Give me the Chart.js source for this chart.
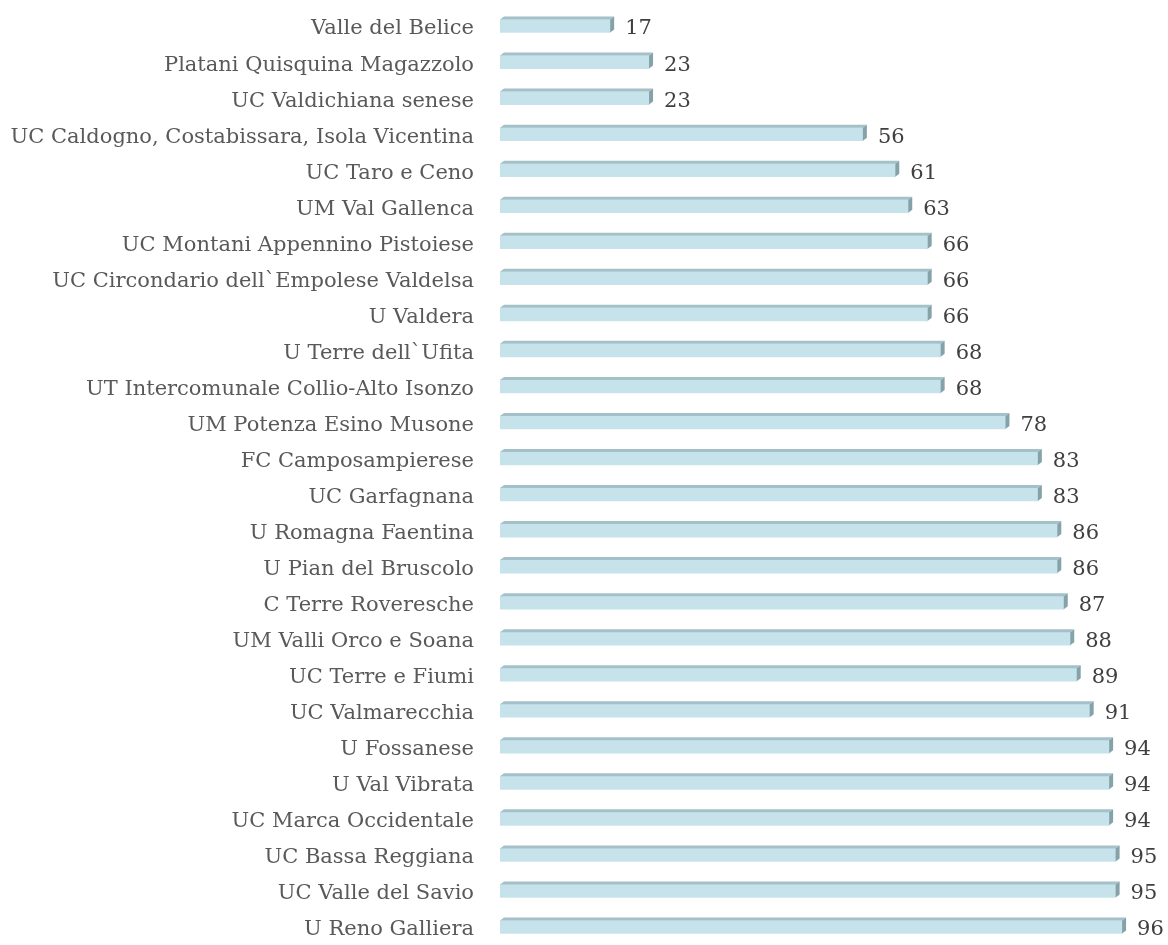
<!DOCTYPE html>
<html>
<head>
<meta charset="utf-8">
<script src="https://cdn.jsdelivr.net/npm/chart.js@4"></script>
<style>
  body { margin: 0; background: #fff; }
  #wrap { width: 1168px; height: 945px; position: relative; }
</style>
</head>
<body>
<div id="wrap"><canvas id="unionChart"></canvas></div>
<script>
var unions = [
  'Valle del Belice', 'Platani Quisquina Magazzolo', 'UC Valdichiana senese',
  'UC Caldogno, Costabissara, Isola Vicentina', 'UC Taro e Ceno', 'UM Val Gallenca',
  'UC Montani Appennino Pistoiese', 'UC Circondario dell`Empolese Valdelsa', 'U Valdera',
  'U Terre dell`Ufita', 'UT Intercomunale Collio-Alto Isonzo', 'UM Potenza Esino Musone',
  'FC Camposampierese', 'UC Garfagnana', 'U Romagna Faentina', 'U Pian del Bruscolo',
  'C Terre Roveresche', 'UM Valli Orco e Soana', 'UC Terre e Fiumi', 'UC Valmarecchia',
  'U Fossanese', 'U Val Vibrata', 'UC Marca Occidentale', 'UC Bassa Reggiana',
  'UC Valle del Savio', 'U Reno Galliera'
];
var scores = [17, 23, 23, 56, 61, 63, 66, 66, 66, 68, 68, 78, 83, 83, 86, 86, 87, 88, 89, 91, 94, 94, 94, 95, 95, 96];

// top and side faces of the boxes + value labels
var boxFaces = {
  id: 'boxFaces',
  afterDatasetsDraw: function (chart) {
    var ctx = chart.ctx;
    var meta = chart.getDatasetMeta(0);
    var d = 4;
    ctx.save();
    meta.data.forEach(function (bar, i) {
      var top = bar.y - bar.height / 2;
      var bottom = bar.y + bar.height / 2;
      ctx.fillStyle = '#a4c0c8';
      ctx.beginPath();
      ctx.moveTo(bar.base, top);
      ctx.lineTo(bar.base + d, top - 3);
      ctx.lineTo(bar.x + d, top - 3);
      ctx.lineTo(bar.x, top);
      ctx.closePath();
      ctx.fill();
      ctx.fillStyle = '#86a2a9';
      ctx.beginPath();
      ctx.moveTo(bar.x, top);
      ctx.lineTo(bar.x + d, top - 3);
      ctx.lineTo(bar.x + d, bottom - 3);
      ctx.lineTo(bar.x, bottom);
      ctx.closePath();
      ctx.fill();
      ctx.fillStyle = '#404040';
      ctx.font = '21px "DejaVu Serif"';
      ctx.textAlign = 'left';
      ctx.textBaseline = 'middle';
      ctx.fillText(scores[i], bar.x + 15, bar.y + 3);
    });
    ctx.restore();
  }
};

new Chart(document.getElementById('unionChart').getContext('2d'), {
  type: 'bar',
  data: {
    labels: unions,
    datasets: [{ data: scores, backgroundColor: '#c6e3ec', barThickness: 13, borderWidth: 0 }]
  },
  options: {
    indexAxis: 'y',
    responsive: true,
    maintainAspectRatio: false,
    animation: false,
    layout: { padding: { top: 8, right: 20, bottom: 0, left: 0 } },
    plugins: { legend: { display: false }, tooltip: { enabled: false } },
    scales: {
      x: { display: false, min: 0, max: 100 },
      y: {
        grid: { display: false, drawTicks: false },
        border: { display: false },
        ticks: { color: '#595959', font: { family: 'DejaVu Serif', size: 21 }, padding: 26, labelOffset: 3 },
        afterFit: function (scale) {
          scale.width = 500;
          scale.paddingTop = 0;
          scale.paddingBottom = 0;
        }
      }
    }
  },
  plugins: [boxFaces]
});
</script>
</body>
</html>
